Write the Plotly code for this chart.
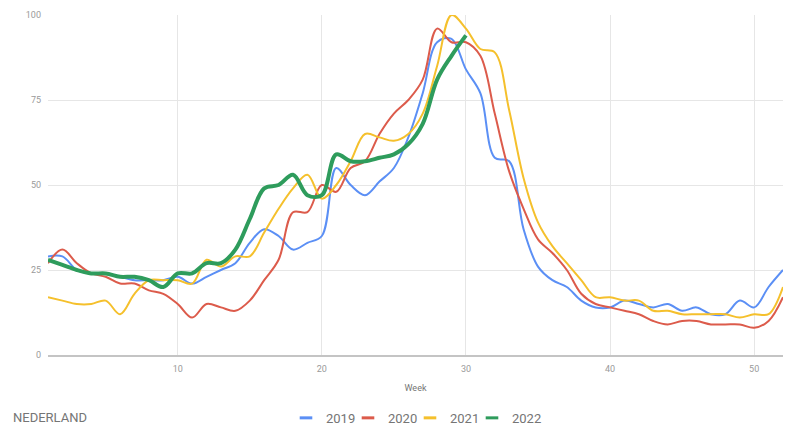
import plotly.graph_objects as go

weeks = list(range(1, 53))

y2019 = [29, 29, 25, 24, 24, 23, 22, 22, 22, 23, 21, 23, 25, 27, 33, 37, 35, 31, 33, 35,
         55, 50, 47, 51, 55, 64, 77, 92, 93, 84, 77, 58, 57, 37, 26, 22, 20, 16, 14, 14,
         16, 15, 14, 15, 13, 14, 12, 12, 16, 14, 20, 25]
y2020 = [27, 31, 27, 24, 23, 21, 21, 19, 18, 15, 11, 15, 14, 13, 16, 22, 28, 42, 42, 50,
         48, 55, 57, 65, 71, 75, 81, 96, 92, 92, 88, 71, 54, 43, 34, 30, 25, 18, 15, 14,
         13, 12, 10, 9, 10, 10, 9, 9, 9, 8, 10, 17]
y2021 = [17, 16, 15, 15, 16, 12, 18, 22, 22, 22, 21, 28, 26, 29, 29, 36, 43, 49, 53, 46,
         50, 57, 65, 64, 63, 65, 71, 85, 100, 96, 90, 89, 72, 52, 39, 32, 27, 22, 17, 17,
         16, 16, 13, 13, 12, 12, 12, 12, 11, 12, 12, 20]
y2022 = [28, 26.5, 25, 24, 24, 23, 23, 22, 20, 24, 24, 27, 27, 31, 40, 49, 50, 53, 47, 47,
         59, 57, 57, 58, 59, 62, 68, 81, 88, 94]

series = [
    ("2019", y2019, "#5b8ff5", 2),
    ("2020", y2020, "#dc5b4b", 2),
    ("2021", y2021, "#f5c02c", 2),
    ("2022", y2022, "#2e9c5c", 4),
]

fig = go.Figure()
for name, ys, color, w in series:
    fig.add_trace(go.Scatter(
        x=weeks[:len(ys)], y=ys, mode="lines", name=name,
        line=dict(color=color, width=w, shape="spline", smoothing=1.0),
        showlegend=False, hoverinfo="x+y+name",
    ))
for name, ys, color, w in series:
    fig.add_trace(go.Scatter(
        x=[None], y=[None], mode="markers", name=name,
        marker=dict(symbol="line-ew", size=9, line=dict(color=color, width=3)),
        showlegend=True,
    ))
# spacer entry so the last legend label is not clipped
fig.add_trace(go.Scatter(
    x=[None], y=[None], mode="markers", name=" ",
    marker=dict(symbol="line-ew", size=1, opacity=0, line=dict(color="white", width=0)),
    showlegend=True, hoverinfo="skip",
))

fig.update_layout(
    width=799, height=432,
    margin=dict(l=48, r=16, t=15, b=77, autoexpand=False),
    paper_bgcolor="white", plot_bgcolor="white",
    font=dict(family="Roboto", color="#757575"),
    showlegend=True,
    legend=dict(
        orientation="h", x=0.3238, xanchor="left", y=-0.185, yanchor="middle",
        font=dict(size=13, color="#757575"),
        entrywidth=17, entrywidthmode="pixels",
        itemwidth=30,
    ),
    annotations=[dict(
        text="NEDERLAND", xref="paper", yref="paper", x=-0.05, y=-0.185,
        xanchor="left", yanchor="middle", showarrow=False,
        font=dict(size=13, color="#757575", family="Roboto"),
    )],
)
fig.update_xaxes(
    range=[1, 52], tickvals=[10, 20, 30, 40, 50],
    showgrid=True, gridcolor="#e6e6e6", gridwidth=1,
    zeroline=False, showline=True, linecolor="#c4c4c4", linewidth=2,
    tickfont=dict(size=9, color="#9a9a9a"),
    title=dict(text="Week", font=dict(size=9, color="#757575"), standoff=12),
    ticks="", ticklabelstandoff=4,
)
fig.update_yaxes(
    range=[0, 100], tickvals=[0, 25, 50, 75, 100],
    showgrid=True, gridcolor="#e6e6e6", gridwidth=1,
    zeroline=False, showline=False,
    tickfont=dict(size=9, color="#9a9a9a"),
    ticks="", ticklabelstandoff=6,
)

fig.write_html("out.html")
